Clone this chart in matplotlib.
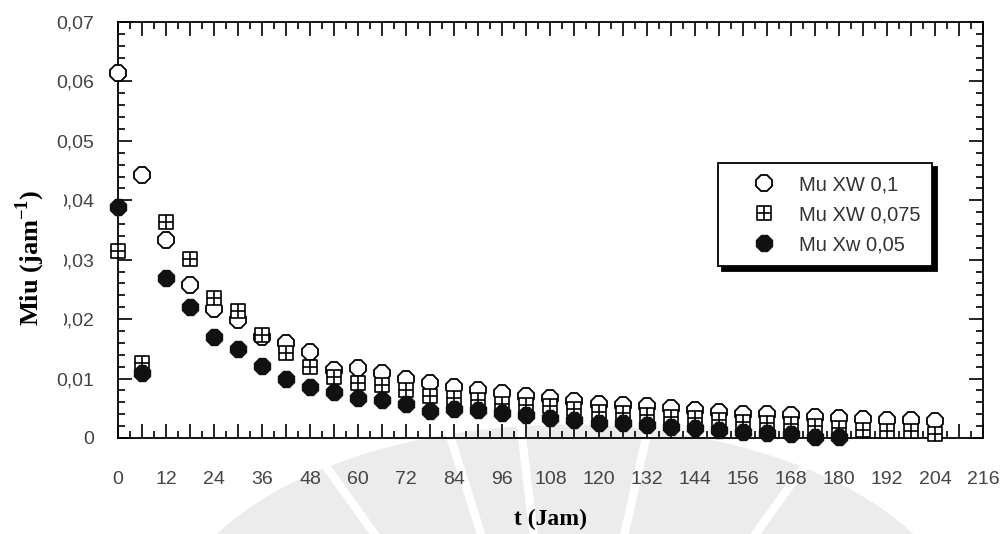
import matplotlib
matplotlib.use("Agg")
import matplotlib.pyplot as plt
from matplotlib.path import Path
from matplotlib.patches import Ellipse
from matplotlib.lines import Line2D
from matplotlib.ticker import MultipleLocator, FuncFormatter

# sampling times (hours)
t_jam = [0, 6, 12, 18, 24, 30, 36, 42, 48, 54, 60, 66, 72, 78, 84, 90, 96, 102,
         108, 114, 120, 126, 132, 138, 144, 150, 156, 162, 168, 174, 180, 186,
         192, 198, 204]
t_jam_005 = t_jam[:31]

# specific growth rate, XW 0,1
mu_xw_01 = [0.0615, 0.0443, 0.0334, 0.0257, 0.0217, 0.0199, 0.0170, 0.0159, 0.0144,
            0.0115, 0.0117, 0.0109, 0.0100, 0.0092, 0.0086, 0.0081, 0.0075, 0.0070,
            0.0068, 0.0063, 0.0058, 0.0056, 0.0053, 0.0050, 0.0047, 0.0044, 0.0041,
            0.0040, 0.0038, 0.0035, 0.0034, 0.0032, 0.0031, 0.0030, 0.0029]

# specific growth rate, XW 0,075
mu_xw_0075 = [0.0314, 0.0127, 0.0364, 0.0302, 0.0235, 0.0214, 0.0173, 0.0143, 0.0119,
              0.0102, 0.0092, 0.0089, 0.0081, 0.0070, 0.0067, 0.0064, 0.0058, 0.0056,
              0.0053, 0.0048, 0.0043, 0.0042, 0.0039, 0.0036, 0.0033, 0.0031, 0.0027,
              0.0026, 0.0023, 0.0020, 0.0017, 0.0013, 0.0012, 0.0011, 0.0007]

# specific growth rate, XW 0,05
mu_xw_005 = [0.0388, 0.0110, 0.0270, 0.0221, 0.0170, 0.0149, 0.0121, 0.0100, 0.0086,
             0.0078, 0.0067, 0.0064, 0.0058, 0.0046, 0.0049, 0.0047, 0.0042, 0.0039,
             0.0033, 0.0030, 0.0026, 0.0025, 0.0022, 0.0019, 0.0016, 0.0014, 0.0010,
             0.0008, 0.0007, 0.0002, 0.0001]

labels = ["Mu XW 0,1", "Mu XW 0,075", "Mu Xw 0,05"]

# square with a cross inside
box_plus = Path([(-1, -1), (1, -1), (1, 1), (-1, 1), (-1, -1),
                 (0, -1), (0, 1), (-1, 0), (1, 0)],
                [Path.MOVETO, Path.LINETO, Path.LINETO, Path.LINETO, Path.CLOSEPOLY,
                 Path.MOVETO, Path.LINETO, Path.MOVETO, Path.LINETO])

plt.rcParams['font.family'] = 'Liberation Sans'
plt.rcParams['mathtext.fontset'] = 'custom'
plt.rcParams['mathtext.rm'] = 'Liberation Serif:bold'
plt.rcParams['mathtext.bf'] = 'Liberation Serif:bold'

W, H = 1003, 534
fig = plt.figure(figsize=(W / 100, H / 100), dpi=100)

# faint watermark behind the plot (figure pixel coords -> fractions)
def px(x, y):
    return (x / W, 1 - y / H)

wm = '#ececec'
fig.patches.append(Ellipse(px(565, 640), 800 / W, 430 / H, transform=fig.transFigure,
                           facecolor=wm, edgecolor='none', zorder=-2))
for tx, ty in [(300, 430), (445, 420), (520, 420), (650, 420), (830, 430)]:
    (x0, y0), (x1, y1) = px(565, 800), px(tx, ty)
    fig.lines.append(Line2D([x0, x1], [y0, y1], transform=fig.transFigure,
                            color='white', lw=6, zorder=-1))

ax = fig.add_axes([0.1176, 0.1798, 0.8624, 0.779])
ax.patch.set_alpha(0)

ax.plot(t_jam, mu_xw_01, linestyle='none', marker='8', ms=12.5, mfc='white',
        mec='black', mew=1.3, clip_on=False, zorder=3, label=labels[0])
ax.plot(t_jam, mu_xw_0075, linestyle='none', marker=box_plus, ms=9.5, mfc='white',
        mec='black', mew=1.2, clip_on=False, zorder=4, label=labels[1])
ax.plot(t_jam_005, mu_xw_005, linestyle='none', marker='8', ms=13, mfc='#111111',
        mec='#111111', mew=1.0, clip_on=False, zorder=5, label=labels[2])

ax.set_xlim(0, 216)
ax.set_ylim(0, 0.07)

ax.xaxis.set_major_locator(MultipleLocator(6))
ax.xaxis.set_minor_locator(MultipleLocator(3))
ax.yaxis.set_major_locator(MultipleLocator(0.01))
ax.yaxis.set_minor_locator(MultipleLocator(0.002))


def x_fmt(v, pos):
    return f"{int(round(v))}" if int(round(v)) % 12 == 0 else ""


def y_fmt(v, pos):
    if abs(v) < 1e-9:
        return "0"
    return f"{v:.2f}".replace(".", ",")


ax.xaxis.set_major_formatter(FuncFormatter(x_fmt))
ax.yaxis.set_major_formatter(FuncFormatter(y_fmt))

ax.tick_params(which='both', direction='in', top=True, right=True,
               width=1.2, colors='black', labelcolor='#444444', labelsize=14)
ax.tick_params(which='major', length=10)
ax.tick_params(which='minor', length=5)
ax.tick_params(axis='x', pad=24)
ax.tick_params(axis='y', pad=17)

for s in ax.spines.values():
    s.set_linewidth(1.3)

ax.set_xlabel("t (Jam)", family='Liberation Serif', fontweight='bold', fontsize=17)
ax.xaxis.set_label_coords(0.5, -0.17)

# y label sits over the tick labels with a white box behind it
fig.text(0.030, 0.517, r"Miu (jam$^{-1}$)", rotation=90, ha='center', va='center',
         family='Liberation Serif', fontweight='bold', fontsize=19,
         bbox=dict(facecolor='white', edgecolor='none', pad=12.5), zorder=10)

leg = ax.legend(loc='upper left', bbox_to_anchor=(0.694, 0.661), borderaxespad=0,
                fontsize=14.5, frameon=True, fancybox=False, numpoints=1,
                handlelength=3.3, handletextpad=0.1, labelspacing=0.55,
                borderpad=0.6, labelcolor='#333333', framealpha=1,
                shadow={'ox': 3, 'oy': -3, 'facecolor': 'black',
                        'edgecolor': 'black', 'alpha': 1})
leg.get_frame().set_edgecolor('black')
leg.get_frame().set_linewidth(1.3)

fig.savefig("out.png", dpi=100, facecolor='white')
